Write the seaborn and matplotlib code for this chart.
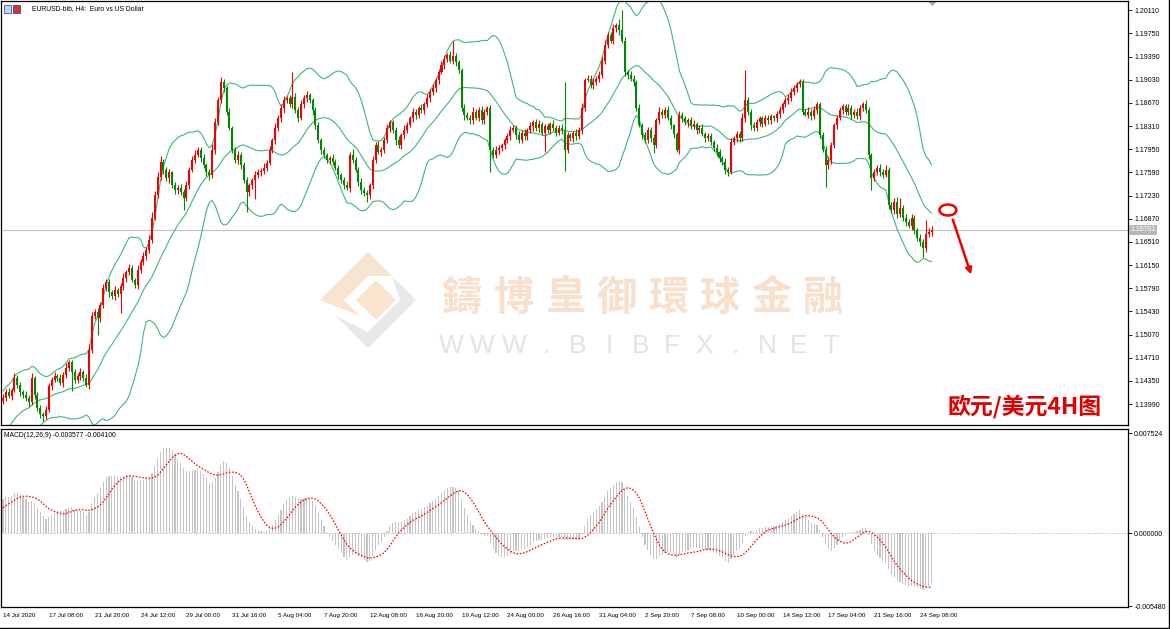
import matplotlib
matplotlib.use("Agg")
import matplotlib.pyplot as plt
import matplotlib.transforms as mtransforms
from matplotlib import font_manager
from matplotlib.patches import Ellipse, Polygon, Rectangle
import numpy as np
import pandas as pd
import seaborn as sns

sns.set_style("white")

installed = {f.name for f in font_manager.fontManager.ttflist}
NARROW = "Liberation Sans Narrow" in installed
SMALL_FONT = "Liberation Sans Narrow" if NARROW else "Liberation Sans"
plt.rcParams["font.family"] = [SMALL_FONT, "DejaVu Sans"]
PRICE_FS = 6.0 if NARROW else 5.0
TIME_FS = 5.3 if NARROW else 4.5
TITLE_FS = 5.9 if NARROW else 4.9

# ---- data: EURUSD H4 closes ----
# bars before 14 Jul 16:00, only used to warm up the indicators
warmup_closes = [
    1.1295, 1.1302, 1.1290, 1.1281, 1.1276, 1.1284, 1.1290, 1.1298, 1.1305, 1.1312,
    1.1318, 1.1326, 1.1330, 1.1336, 1.1328, 1.1322, 1.1300, 1.1285, 1.1279, 1.1270,
    1.1262, 1.1258, 1.1266, 1.1275, 1.1288, 1.1296, 1.1292, 1.1300, 1.1306, 1.1314,
    1.1322, 1.1335, 1.1348, 1.1356, 1.1362, 1.1350, 1.1344, 1.1338, 1.1346, 1.1360,
    1.1372, 1.1384, 1.1392, 1.1398, 1.1404,
]

closes = [
    1.1409, 1.1418, 1.1412, 1.1421, 1.1440, 1.1429, 1.1418, 1.1413, 1.1409, 1.1402,
    1.1440, 1.1413, 1.1393, 1.1384, 1.1381, 1.1390, 1.1427, 1.1436, 1.1442, 1.1440,
    1.1432, 1.1444, 1.1455, 1.1464, 1.1449, 1.1436, 1.1443, 1.1449, 1.1440, 1.1429,
    1.1483, 1.1536, 1.1542, 1.1533, 1.1553, 1.1579, 1.1589, 1.1573, 1.1567, 1.1576,
    1.1570, 1.1582, 1.1595, 1.1604, 1.1610, 1.1592, 1.1584, 1.1607, 1.1620, 1.1629,
    1.1638, 1.1654, 1.1688, 1.1724, 1.1752, 1.1775, 1.1763, 1.1750, 1.1759, 1.1739,
    1.1731, 1.1735, 1.1728, 1.1719, 1.1739, 1.1763, 1.1778, 1.1786, 1.1794, 1.1781,
    1.1770, 1.1759, 1.1755, 1.1794, 1.1837, 1.1871, 1.1899, 1.1890, 1.1853, 1.1828,
    1.1794, 1.1778, 1.1786, 1.1770, 1.1747, 1.1728, 1.1739, 1.1747, 1.1755, 1.1759,
    1.1762, 1.1766, 1.1773, 1.1794, 1.1809, 1.1828, 1.1843, 1.1859, 1.1871, 1.1874,
    1.1865, 1.1877, 1.1856, 1.1843, 1.1865, 1.1874, 1.1879, 1.1871, 1.1856, 1.1832,
    1.1809, 1.1794, 1.1786, 1.1778, 1.1781, 1.1775, 1.1766, 1.1755, 1.1747, 1.1739,
    1.1735, 1.1786, 1.1778, 1.1763, 1.1744, 1.1731, 1.1727, 1.1724, 1.1739, 1.1778,
    1.1801, 1.1790, 1.1794, 1.1809, 1.1828, 1.1837, 1.1825, 1.1809, 1.1801, 1.1817,
    1.1825, 1.1832, 1.1843, 1.1853, 1.1848, 1.1859, 1.1856, 1.1865, 1.1874, 1.1884,
    1.1890, 1.1902, 1.1915, 1.1926, 1.1936, 1.1941, 1.1933, 1.1940, 1.1930, 1.1918,
    1.1859, 1.1848, 1.1844, 1.1840, 1.1853, 1.1843, 1.1856, 1.1840, 1.1853, 1.1859,
    1.1794, 1.1786, 1.1794, 1.1797, 1.1801, 1.1809, 1.1815, 1.1825, 1.1828, 1.1817,
    1.1809, 1.1821, 1.1815, 1.1825, 1.1831, 1.1837, 1.1828, 1.1834, 1.1821, 1.1831,
    1.1825, 1.1834, 1.1828, 1.1820, 1.1828, 1.1825, 1.1794, 1.1817, 1.1812, 1.1821,
    1.1815, 1.1825, 1.1859, 1.1902, 1.1905, 1.1895, 1.1899, 1.1905, 1.1910, 1.1933,
    1.1957, 1.1972, 1.1964, 1.1983, 1.1988, 1.1980, 1.1964, 1.1915, 1.1910, 1.1905,
    1.1899, 1.1859, 1.1832, 1.1817, 1.1809, 1.1825, 1.1812, 1.1801, 1.1840, 1.1853,
    1.1848, 1.1856, 1.1843, 1.1832, 1.1818, 1.1794, 1.1848, 1.1843, 1.1837, 1.1840,
    1.1831, 1.1834, 1.1825, 1.1828, 1.1818, 1.1812, 1.1815, 1.1806, 1.1797, 1.1790,
    1.1781, 1.1775, 1.1763, 1.1759, 1.1806, 1.1812, 1.1818, 1.1812, 1.1843, 1.1871,
    1.1853, 1.1832, 1.1828, 1.1837, 1.1843, 1.1834, 1.1843, 1.1840, 1.1846, 1.1843,
    1.1850, 1.1856, 1.1865, 1.1871, 1.1874, 1.1884, 1.1890, 1.1896, 1.1899, 1.1853,
    1.1849, 1.1853, 1.1846, 1.1856, 1.1865, 1.1817, 1.1794, 1.1770, 1.1778, 1.1801,
    1.1832, 1.1843, 1.1856, 1.1862, 1.1853, 1.1859, 1.1848, 1.1853, 1.1846, 1.1859,
    1.1865, 1.1856, 1.1786, 1.1750, 1.1759, 1.1766, 1.1760, 1.1755, 1.1763, 1.1708,
    1.1700, 1.1713, 1.1694, 1.1704, 1.1688, 1.1682, 1.1676, 1.1688, 1.1669, 1.1657,
    1.1651, 1.1641, 1.1663, 1.1666, 1.1670,
]

# wick lengths beyond the body, in pips
upper_wick_pips = [
    5, 4, 6, 3, 7, 4, 5, 3, 6, 4, 8, 3, 5, 4, 3, 6, 4, 5, 7, 4, 6, 5, 8, 4, 3,
    5, 4, 6, 3, 5, 9, 6, 4, 7, 5, 6, 4, 5, 3, 6, 4, 5, 7, 4, 6, 5, 3, 8, 4, 6,
    5, 7, 9, 6, 8, 10, 5, 4, 6, 3, 5, 4, 6, 5, 7, 4, 6, 8, 5, 4, 6, 3, 5, 9, 7,
    6, 8, 5, 4, 6, 3, 5, 7, 4, 6, 5, 4, 3, 6, 5, 4, 7, 5, 6, 4, 8, 5, 6, 7, 4,
    6, 38, 5, 4, 7, 5, 6, 4, 3, 5, 6, 4, 5, 3, 4, 6, 5, 4, 3, 5, 7, 4, 9, 5, 4,
    6, 5, 4, 3, 6, 5, 7, 4, 5, 6, 4, 3, 5, 6, 4, 7, 5, 4, 6, 5, 3, 6, 4, 7, 5,
    6, 4, 5, 7, 5, 4, 6, 24, 5, 4, 3, 6, 5, 4, 7, 5, 4, 6, 5, 3, 5, 4, 6, 5, 4,
    3, 5, 6, 4, 5, 7, 4, 5, 3, 6, 4, 5, 6, 4, 3, 5, 4, 6, 5, 4, 7, 74, 5, 4, 3,
    6, 5, 8, 4, 6, 5, 7, 4, 6, 5, 8, 6, 5, 7, 4, 9, 31, 5, 4, 6, 5, 3, 6, 4, 5,
    5, 4, 6, 3, 8, 5, 4, 6, 5, 3, 4, 6, 5, 4, 3, 5, 6, 4, 5, 7, 4, 6, 5, 3, 6,
    5, 4, 6, 5, 7, 4, 5, 6, 8, 47, 5, 4, 6, 5, 3, 4, 6, 5, 4, 3, 5, 6, 4, 5, 7,
    6, 5, 4, 6, 5, 4, 7, 5, 6, 4, 3, 5, 6, 7, 5, 4, 6, 5, 4, 3, 6, 5, 4, 6, 5,
    4, 6, 5, 3, 5, 4, 6, 5, 7, 4, 5, 6, 8, 16, 5, 7, 4, 6, 5, 4, 6, 5, 22, 6, 5,
]
lower_wick_pips = [
    5, 6, 4, 7, 3, 5, 6, 4, 5, 8, 4, 6, 5, 7, 9, 5, 4, 6, 3, 5, 4, 6, 5, 4, 30,
    5, 4, 6, 5, 3, 6, 4, 5, 27, 6, 5, 4, 7, 5, 6, 4, 30, 5, 6, 4, 3, 5, 6, 4, 5,
    6, 4, 5, 3, 5, 4, 6, 5, 7, 4, 6, 5, 4, 19, 5, 6, 4, 5, 3, 6, 4, 5, 7, 4, 6,
    5, 4, 6, 5, 3, 5, 4, 6, 5, 4, 31, 5, 6, 30, 4, 5, 6, 4, 3, 5, 6, 4, 5, 7, 4,
    5, 6, 4, 5, 3, 6, 5, 4, 7, 5, 4, 6, 5, 4, 6, 5, 3, 6, 4, 5, 4, 6, 5, 4, 6,
    5, 4, 11, 6, 5, 4, 3, 6, 5, 4, 6, 5, 7, 4, 5, 6, 4, 3, 5, 6, 4, 5, 6, 4, 5,
    4, 6, 5, 3, 6, 5, 4, 5, 6, 4, 5, 7, 4, 6, 5, 3, 4, 6, 5, 4, 35, 5, 4, 6, 5,
    6, 4, 5, 3, 6, 5, 4, 6, 5, 4, 7, 5, 6, 4, 30, 5, 6, 4, 5, 3, 6, 32, 5, 4, 6,
    5, 4, 6, 5, 3, 5, 6, 4, 5, 4, 6, 5, 4, 6, 5, 7, 4, 6, 5, 4, 6, 5, 3, 6, 4,
    5, 6, 12, 4, 6, 5, 4, 3, 6, 5, 4, 6, 5, 4, 7, 5, 4, 6, 5, 3, 6, 4, 5, 4, 6,
    5, 4, 6, 5, 3, 4, 6, 5, 4, 6, 5, 7, 4, 5, 6, 4, 3, 5, 6, 4, 5, 6, 4, 5, 6,
    4, 5, 6, 4, 5, 3, 6, 5, 4, 6, 5, 4, 34, 5, 6, 4, 5, 3, 6, 5, 4, 6, 5, 4, 6,
    5, 4, 6, 19, 5, 4, 6, 5, 3, 6, 4, 5, 6, 4, 5, 7, 4, 6, 5, 4, 6, 14, 5, 4, 6,
]

time_labels = [
    "14 Jul 2020", "17 Jul 08:00", "21 Jul 20:00", "24 Jul 12:00", "29 Jul 00:00",
    "31 Jul 16:00", "5 Aug 04:00", "7 Aug 20:00", "12 Aug 08:00", "16 Aug 20:00",
    "19 Aug 12:00", "24 Aug 00:00", "26 Aug 16:00", "31 Aug 04:00", "2 Sep 20:00",
    "7 Sep 08:00", "10 Sep 00:00", "14 Sep 12:00", "17 Sep 04:00", "21 Sep 16:00",
    "24 Sep 08:00",
]
BARS_PER_LABEL = 16

price_ticks = [1.20110, 1.19750, 1.19390, 1.19030, 1.18670, 1.18310, 1.17950,
               1.17590, 1.17230, 1.16870, 1.16510, 1.16150, 1.15790, 1.15430,
               1.15070, 1.14710, 1.14350, 1.13990]
macd_ticks = [0.007524, 0.0, -0.005480]
macd_tick_labels = ["0.007524", "0.000000", "-0.005480"]
last_price = 1.16701
chart_title = "EURUSD-bib, H4:  Euro vs US Dollar"
macd_caption = "MACD(12,26,9) -0.003577 -0.004100"

# ---- indicators ----
all_close = pd.Series(warmup_closes + closes, dtype=float)
nw = len(warmup_closes)
ema12 = all_close.ewm(span=12, adjust=False).mean()
ema26 = all_close.ewm(span=26, adjust=False).mean()
macd = ema12 - ema26
signal = macd.rolling(9).mean()
mid = all_close.rolling(20).mean()
sd = all_close.rolling(20).std(ddof=0)

n = len(closes)
df = pd.DataFrame({"bar": np.arange(n), "close": closes})
df["open"] = all_close.shift(1).iloc[nw:].to_numpy()
body_top = df[["open", "close"]].max(axis=1)
body_bot = df[["open", "close"]].min(axis=1)
df["high"] = body_top + np.array(upper_wick_pips[:n]) / 10000
df["low"] = body_bot - np.array(lower_wick_pips[:n]) / 10000
df["upper"] = (mid + 2 * sd).iloc[nw:].to_numpy()
df["mid"] = mid.iloc[nw:].to_numpy()
df["lower"] = (mid - 2 * sd).iloc[nw:].to_numpy()
df["macd"] = macd.iloc[nw:].to_numpy()
df["signal"] = signal.iloc[nw:].to_numpy()

RED = "#f00000"
GREEN = "#008800"
BAND = "#3cb878"

# ---- layout (pixel based, 1170 x 629) ----
W, H = 1170, 629
PITCH = 2.866          # pixels per bar
FRAME_W = 1127         # chart frame width in pixels
fig = plt.figure(figsize=(W / 100, H / 100), dpi=100)
fig.patch.set_facecolor("white")

ov = fig.add_axes([0, 0, 1, 1], zorder=0)
ov.set_xlim(0, W)
ov.set_ylim(H, 0)
ov.axis("off")

ax = fig.add_axes([1 / W, (H - 425) / H, FRAME_W / W, 424 / H], zorder=1)
ax2 = fig.add_axes([1 / W, (H - 607) / H, FRAME_W / W, 178 / H], zorder=1)
x0 = -2 / PITCH
for a in (ax, ax2):
    a.set_facecolor("none")
    a.set_xlim(x0, x0 + FRAME_W / PITCH)
    for s in a.spines.values():
        s.set_color("black")
        s.set_linewidth(0.9)
        s.set_visible(True)

# ---- watermark ----
logo_peach = "#f9e4d0"
logo_gray = "#e9e9e9"
ov.add_patch(Polygon([(320, 300), (368, 252), (392, 276), (368, 276), (344, 300), (360, 316)],
                     closed=True, fc=logo_peach, ec="none"))
ov.add_patch(Polygon([(336, 316), (368, 348), (416, 300), (392, 276), (400, 300), (368, 332)],
                     closed=True, fc=logo_gray, ec="none"))
ov.add_patch(Polygon([(356, 300), (376, 280), (396, 300), (376, 320)],
                     closed=True, fc=logo_peach, ec="none"))
for k, ch in enumerate("鑄博皇御環球金融"):
    ov.text(462 + 51.5 * k, 298, ch, fontsize=29, color="#f8e0cc", ha="center", va="center",
            family=["Noto Sans CJK TC", "DejaVu Sans"], fontweight="bold")
for k, ch in enumerate("WWW.BIBFX.NET"):
    ov.text(451 + 31.6 * k, 346, ch, fontsize=19, color="#e3e3e3", ha="center", va="center",
            family=["Liberation Sans", "DejaVu Sans"])

# ---- window frame bits ----
ov.plot([1168.5, 1168.5], [0, H], color="black", lw=1)
ov.plot([0, W], [627.5, 627.5], color="black", lw=1)
ov.add_patch(Polygon([(928, 1), (937, 1), (932.5, 6)], closed=True, fc="#a8a8a8", ec="none"))
ov.add_patch(Rectangle((4, 5), 7, 8, fc="#c8d4f0", ec="#3a5aa8", lw=0.6))
ov.add_patch(Rectangle((13, 5), 7, 8, fc="#e03030", ec="#3050a0", lw=0.6))
ov.text(32, 9, chart_title, fontsize=TITLE_FS, color="black", va="center", ha="left")

# ---- main price panel ----
up = df["close"] >= df["open"]
colors = np.where(up, RED, GREEN)
ax.vlines(df["bar"], df["low"], df["high"], colors=colors, lw=0.8, zorder=3)
ax.bar(df["bar"], (body_top - body_bot).clip(lower=0.00012), bottom=body_bot,
       width=0.7, color=colors, lw=0, zorder=4)
for col in ["upper", "mid", "lower"]:
    sns.lineplot(data=df, x="bar", y=col, ax=ax, color=BAND, lw=0.8, zorder=2)
ax.axhline(last_price, color="#c0c0c0", lw=0.8, zorder=1)

ax.set_ylim(1.13664, 1.20255)
ax.set_xlabel("")
ax.set_ylabel("")
ax.set_xticks([])
ax.yaxis.tick_right()
ax.set_yticks(price_ticks)
ax.set_yticklabels([f"{p:.5f}" for p in price_ticks], fontsize=PRICE_FS)
ax.tick_params(axis="y", direction="out", length=3, width=0.6, pad=1.5, colors="black")

blend = mtransforms.blended_transform_factory(ax.transAxes, ax.transData)
ax.text(1.0025, last_price, f"{last_price:.5f}", transform=blend, fontsize=PRICE_FS,
        color="white", va="center", ha="left",
        bbox=dict(boxstyle="square,pad=0.2", fc="#b8b8b8", ec="none"))

# red forecast mark
ax.add_patch(Ellipse((329.7, 1.17006), 5.9, 0.00171, fill=False, ec="#ee0000", lw=1.8, zorder=6))
ax.annotate("", xy=(338.1, 1.15963), xytext=(331.1, 1.16897),
            arrowprops=dict(arrowstyle="-|>", color="#ee0000", lw=1.8, mutation_scale=9),
            zorder=6)
ax.text(948, 407, "欧元/美元4H图", transform=ov.transData, fontsize=16.5, color="#e00000",
        fontweight="bold", ha="left", va="center",
        family=["Noto Sans CJK SC", "DejaVu Sans"], zorder=6)

# ---- MACD panel ----
ax2.bar(df["bar"], df["macd"], width=0.4, color="#c4c4c4", lw=0, zorder=2)
ax2.plot(df["bar"], df["signal"], color="#ff0000", lw=0.9, linestyle=(0, (1.3, 1.3)), zorder=3)
ax2.axhline(0, color="#b0b0b0", lw=0.7, linestyle=(0, (1, 1.5)), zorder=1)
ax2.set_ylim(-0.00552, 0.00783)
ax2.yaxis.tick_right()
ax2.set_yticks(macd_ticks)
ax2.set_yticklabels(macd_tick_labels, fontsize=PRICE_FS)
ax2.tick_params(axis="y", direction="out", length=3, width=0.6, pad=1.5, colors="black")
ax2.set_xticks(np.arange(len(time_labels)) * BARS_PER_LABEL)
ax2.set_xticklabels(time_labels, fontsize=TIME_FS)
for lbl in ax2.get_xticklabels():
    lbl.set_ha("left")
ax2.tick_params(axis="x", direction="out", length=3, width=0.6, pad=1.5, colors="black")
ax2.text(3 / FRAME_W, 1 - 3 / 178, macd_caption, transform=ax2.transAxes, fontsize=TITLE_FS,
         va="top", ha="left", color="black")

fig.savefig("out.png", dpi=100, facecolor="white")
